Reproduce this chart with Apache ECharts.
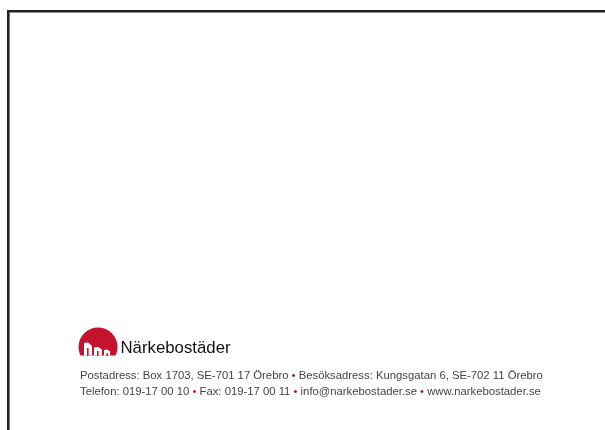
<!DOCTYPE html>
<html lang="sv">
<head>
<meta charset="UTF-8">
<script src="https://cdn.jsdelivr.net/npm/echarts@6.0.0/dist/echarts.min.js"></script>
<title>Närkebostäder</title>
<style>
  html, body { margin: 0; padding: 0; background: #fff; }
</style>
</head>
<body>
<div id="main" style="width: 605px;height:430px;"></div>
<script>
// texter i sidfoten, delade vid de röda punkterna
var brandName = 'Närkebostäder';
var addressParts = ['Postadress: Box 1703, SE-701 17 Örebro', 'Besöksadress: Kungsgatan 6, SE-702 11 Örebro'];
var contactParts = ['Telefon: 019-17 00 10', 'Fax: 019-17 00 11', 'info@narkebostader.se', 'www.narkebostader.se'];

var red = '#c4122f';
var grey = '#444';
var footFont = '11.3px "Liberation Sans", Arial, sans-serif';

function footerLine(parts) {
  return parts.join(' {dot|•} ');
}

var chart = echarts.init(document.getElementById('main'));

chart.setOption({
  backgroundColor: '#fff',
  animation: false,
  graphic: [
    // ram uppe och till vänster
    { type: 'rect', shape: { x: 7, y: 10, width: 600, height: 2.6 }, style: { fill: '#222' } },
    { type: 'rect', shape: { x: 7, y: 10, width: 2.6, height: 422 }, style: { fill: '#222' } },
    { type: 'rect', shape: { x: 9, y: 15, width: 1, height: 1 }, style: { fill: '#555' } },

    // logga: röd kupol med vita hus
    { type: 'circle', shape: { cx: 98, cy: 347, r: 19.5 }, style: { fill: red } },
    { type: 'rect', shape: { x: 76, y: 355.5, width: 44, height: 12 }, style: { fill: '#fff' } },
    { type: 'polygon', shape: { points: [[84, 355.5], [84, 343], [88, 342.5], [92, 346], [92, 355.5]] }, style: { fill: '#fff' } },
    { type: 'polygon', shape: { points: [[94, 355.5], [94, 347.5], [98, 347], [102, 349.5], [102, 355.5]] }, style: { fill: '#fff' } },
    { type: 'polygon', shape: { points: [[104, 355.5], [104, 350], [107, 349.5], [110, 351.5], [110, 355.5]] }, style: { fill: '#fff' } },
    { type: 'rect', shape: { x: 87, y: 348, width: 1.6, height: 8 }, style: { fill: red } },
    { type: 'rect', shape: { x: 97, y: 351, width: 1.6, height: 5 }, style: { fill: red } },
    { type: 'rect', shape: { x: 106.5, y: 353, width: 1.5, height: 3 }, style: { fill: red } },

    {
      type: 'text', x: 120.5, y: 357,
      style: {
        text: brandName, fill: '#111',
        font: '16.8px "Liberation Sans", Arial, sans-serif',
        verticalAlign: 'bottom'
      }
    },
    {
      type: 'text', x: 80, y: 381.5,
      style: {
        text: footerLine(addressParts), fill: grey,
        font: footFont,
        verticalAlign: 'bottom',
        rich: { dot: { fill: red, font: footFont } }
      }
    },
    {
      type: 'text', x: 80, y: 397.5,
      style: {
        text: footerLine(contactParts), fill: grey,
        font: footFont,
        verticalAlign: 'bottom',
        rich: { dot: { fill: red, font: footFont } }
      }
    }
  ]
});
</script>
</body>
</html>
